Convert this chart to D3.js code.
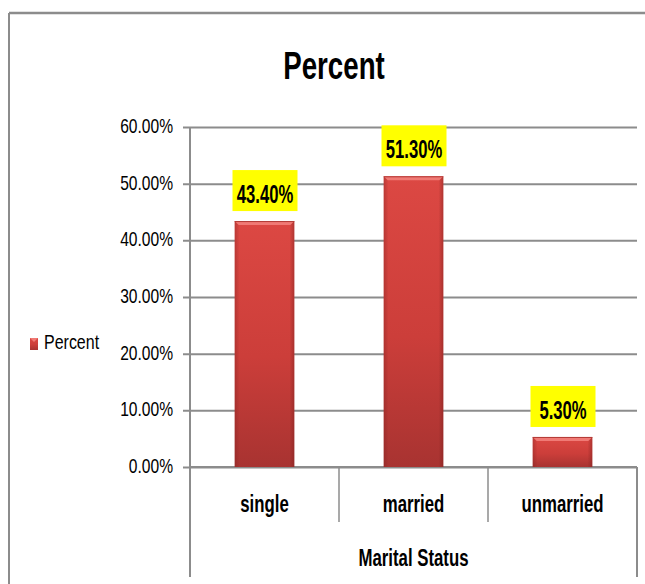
<!DOCTYPE html>
<html>
<head>
<meta charset="utf-8">
<script src="https://cdn.jsdelivr.net/npm/d3@7"></script>
<style>
  html, body { margin: 0; padding: 0; background: #fff; overflow: hidden; }
  svg { display: block; }
  text { font-family: "Liberation Sans", Arial, sans-serif; }
</style>
</head>
<body>
<script>
// Chart data
const categories = ["single", "married", "unmarried"];
const percentValues = [43.4, 51.3, 5.3];
const yTicks = [0, 10, 20, 30, 40, 50, 60];
const chartTitle = "Percent";
const seriesName = "Percent";
const axisTitle = "Marital Status";

const W = 645, H = 584;
const GRID = "#8c8c8c";
const svg = d3.select("body").append("svg").attr("width", W).attr("height", H);

// Narrow text: horizontally condensed glyphs
function label(parent, x, y, str, opts) {
  const o = Object.assign({ size: 20, sx: 0.78, anchor: "start", weight: "normal" }, opts);
  return parent.append("text")
    .attr("transform", `translate(${x},${y}) scale(${o.sx},1)`)
    .attr("text-anchor", o.anchor)
    .attr("font-size", o.size)
    .attr("font-weight", o.weight)
    .attr("fill", "#000")
    .text(str);
}

const defs = svg.append("defs");
const grad = defs.append("linearGradient").attr("id", "barFill")
  .attr("x1", 0).attr("y1", 0).attr("x2", 0).attr("y2", 1);
grad.append("stop").attr("offset", "0%").attr("stop-color", "#dc4843");
grad.append("stop").attr("offset", "55%").attr("stop-color", "#cc3e3a");
grad.append("stop").attr("offset", "100%").attr("stop-color", "#a83331");
const side = defs.append("linearGradient").attr("id", "barSide")
  .attr("x1", 0).attr("y1", 0).attr("x2", 1).attr("y2", 0);
side.append("stop").attr("offset", "0%").attr("stop-color", "#7a1f1d").attr("stop-opacity", 0.35);
side.append("stop").attr("offset", "8%").attr("stop-color", "#7a1f1d").attr("stop-opacity", 0);
side.append("stop").attr("offset", "92%").attr("stop-color", "#7a1f1d").attr("stop-opacity", 0);
side.append("stop").attr("offset", "100%").attr("stop-color", "#7a1f1d").attr("stop-opacity", 0.45);

// Outer chart frame (top and left edges)
svg.append("line").attr("x1", 9).attr("x2", W).attr("y1", 13).attr("y2", 13)
  .attr("stroke", GRID).attr("stroke-width", 2.5);
svg.append("line").attr("x1", 9).attr("x2", 9).attr("y1", 13).attr("y2", H)
  .attr("stroke", GRID).attr("stroke-width", 2);

// Title
label(svg, 334, 79, chartTitle, { size: 39, sx: 0.71, anchor: "middle", weight: "bold" });

const plotL = 190, plotR = 637;
const y = d3.scaleLinear().domain([0, 60]).range([467, 127]);
const x = d3.scaleBand().domain(categories).range([plotL, plotR]).paddingInner(0.6).paddingOuter(0.3);
const band = d3.scaleBand().domain(categories).range([plotL, plotR]);

// Gridlines and y-axis labels
const tickSx = 0.78;
const yAxis = d3.axisLeft(y).tickValues(yTicks).tickSize(-(plotR - plotL + 7)).tickPadding(10)
  .tickFormat(d => d.toFixed(2) + "%");
const gy = svg.append("g").attr("transform", `translate(${plotL - 7},0)`).call(yAxis);
gy.select(".domain").remove();
gy.selectAll(".tick line").attr("stroke", GRID).attr("stroke-width", 2);
gy.selectAll(".tick text")
  .attr("font-size", 20).attr("fill", "#000").attr("font-family", "Liberation Sans, Arial, sans-serif")
  .attr("x", -10 / tickSx).attr("dy", "0.28em")
  .attr("transform", `scale(${tickSx},1)`);

svg.append("line").attr("x1", plotL).attr("x2", plotL).attr("y1", 127).attr("y2", 577)
  .attr("stroke", GRID).attr("stroke-width", 2);
svg.append("line").attr("x1", plotR).attr("x2", plotR).attr("y1", 467).attr("y2", 577)
  .attr("stroke", GRID).attr("stroke-width", 2);
// Category dividers
categories.slice(1).forEach(c => {
  svg.append("line").attr("x1", band(c)).attr("x2", band(c)).attr("y1", 467).attr("y2", 522)
    .attr("stroke", GRID).attr("stroke-width", 1.5);
});
svg.append("line").attr("x1", plotL).attr("x2", plotR).attr("y1", 467).attr("y2", 467)
  .attr("stroke", GRID).attr("stroke-width", 2);

// Bars
const bars = svg.append("g").selectAll("g").data(categories).join("g");
bars.append("rect")
  .attr("x", c => x(c)).attr("width", x.bandwidth())
  .attr("y", (c, i) => y(percentValues[i])).attr("height", (c, i) => y(0) - y(percentValues[i]))
  .attr("fill", "url(#barFill)");
bars.append("rect")
  .attr("x", c => x(c)).attr("width", x.bandwidth())
  .attr("y", (c, i) => y(percentValues[i])).attr("height", (c, i) => y(0) - y(percentValues[i]))
  .attr("fill", "url(#barSide)");
// Top bevel highlight
bars.append("path")
  .attr("d", (c, i) => {
    const x0 = x(c), x1 = x(c) + x.bandwidth(), t = y(percentValues[i]);
    return `M${x0},${t} L${x1},${t} L${x1 - 4},${t + 4} L${x0 + 4},${t + 4} Z`;
  })
  .attr("fill", "#f07a75");
bars.append("line")
  .attr("x1", c => x(c)).attr("x2", c => x(c) + x.bandwidth())
  .attr("y1", (c, i) => y(percentValues[i]) + 0.5).attr("y2", (c, i) => y(percentValues[i]) + 0.5)
  .attr("stroke", "#b23a36").attr("stroke-width", 1);

// Data labels with yellow backgrounds
const labels = svg.append("g").selectAll("g").data(categories).join("g")
  .attr("transform", (c, i) => `translate(${x(c) + x.bandwidth() / 2},${y(percentValues[i])})`);
labels.append("rect").attr("x", -32).attr("y", -51).attr("width", 65).attr("height", 41).attr("fill", "#ffff00");
labels.each(function (c, i) {
  label(d3.select(this), 0.5, -18, percentValues[i].toFixed(2) + "%",
    { size: 26, sx: 0.64, anchor: "middle", weight: "bold" });
});

// Category labels and axis title
categories.forEach(c => {
  label(svg, band(c) + band.bandwidth() / 2, 512, c, { size: 24, sx: 0.7, anchor: "middle", weight: "bold" });
});
label(svg, (plotL + plotR) / 2, 566, axisTitle, { size: 24, sx: 0.7, anchor: "middle", weight: "bold" });

// Legend
svg.append("rect").attr("x", 30).attr("y", 338).attr("width", 8).attr("height", 12).attr("fill", "url(#barFill)");
svg.append("path").attr("d", "M30,338 L38,338 L34,342 Z").attr("fill", "#f07a75");
label(svg, 44, 349, seriesName, { size: 19.5, sx: 0.82 });
</script>
</body>
</html>
